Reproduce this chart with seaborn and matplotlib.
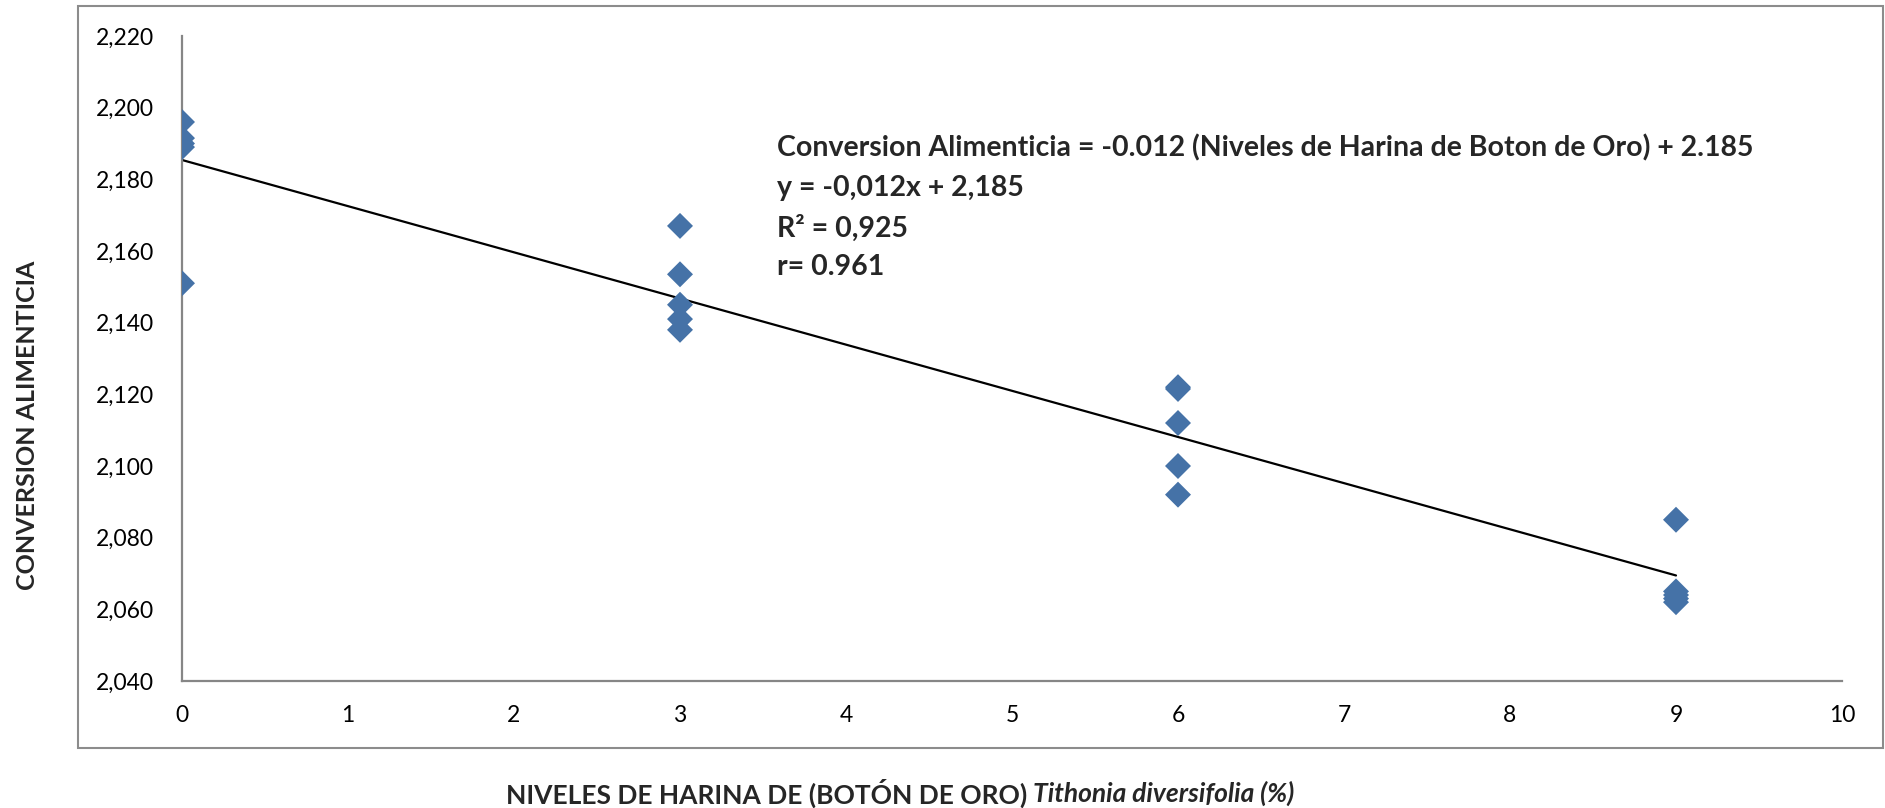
import matplotlib
matplotlib.use("Agg")
import matplotlib.pyplot as plt
import seaborn as sns
import numpy as np
import pandas as pd
from matplotlib.patches import Rectangle

# ---- data ----
niveles = [0, 0, 0, 0, 0,
           3, 3, 3, 3, 3,
           6, 6, 6, 6, 6,
           9, 9, 9, 9, 9]
conversion = [2.196, 2.1915, 2.190, 2.189, 2.151,
              2.167, 2.1535, 2.145, 2.141, 2.138,
              2.122, 2.1215, 2.112, 2.100, 2.092,
              2.085, 2.065, 2.064, 2.063, 2.062]

x_ticks = [0, 1, 2, 3, 4, 5, 6, 7, 8, 9, 10]
x_tick_labels = ["0", "1", "2", "3", "4", "5", "6", "7", "8", "9", "10"]
y_ticks = [2.040, 2.060, 2.080, 2.100, 2.120, 2.140, 2.160, 2.180, 2.200, 2.220]
y_tick_labels = ["2,040", "2,060", "2,080", "2,100", "2,120", "2,140",
                 "2,160", "2,180", "2,200", "2,220"]

eq_lines = [
    "Conversion Alimenticia = -0.012 (Niveles de Harina de Boton de Oro) + 2.185",
    "y = -0,012x + 2,185",
    "R² = 0,925",
    "r= 0.961",
]
xlabel_plain = "NIVELES DE HARINA DE (BOTÓN DE ORO) "
xlabel_italic = "Tithonia diversifolia (%)"
ylabel = "CONVERSION ALIMENTICIA"

df = pd.DataFrame({"niveles": niveles, "conversion": conversion})

sns.set_style("white")
FONT = ["Lato", "DejaVu Sans"]
plt.rcParams["font.family"] = FONT

W, H = 1885, 808
fig = plt.figure(figsize=(W / 100, H / 100), dpi=100)
ax = fig.add_axes([182 / W, 1 - 681 / H, (1842 - 182) / W, (681 - 36) / H])

# outer chart frame
fig.patches.append(Rectangle((78 / W, 1 - 748 / H), (1883 - 78) / W, (748 - 6) / H,
                             transform=fig.transFigure, fill=False,
                             edgecolor="#8c8c8c", linewidth=1.5))

sns.scatterplot(data=df, x="niveles", y="conversion", marker="D", s=175,
                color="#4572A7", edgecolor="none", ax=ax, zorder=3)
sns.regplot(data=df, x="niveles", y="conversion", scatter=False, ci=None,
            color="black", line_kws={"linewidth": 1.6}, ax=ax)

ax.set_xlim(0, 10)
ax.set_ylim(2.040, 2.220)
ax.set_xticks(x_ticks)
ax.set_xticklabels(x_tick_labels)
ax.set_yticks(y_ticks)
ax.set_yticklabels(y_tick_labels)
ax.tick_params(axis="both", length=0, labelsize=16.5, colors="black")
ax.tick_params(axis="y", pad=20)
ax.tick_params(axis="x", pad=17)
ax.set_xlabel("")
ax.set_ylabel("")
for side in ["top", "right"]:
    ax.spines[side].set_visible(False)
for side in ["left", "bottom"]:
    ax.spines[side].set_color("#868686")
    ax.spines[side].set_linewidth(1.6)
ax.set_clip_on(False)

# equation text
ys = [148, 188, 228, 267]
for t, yy in zip(eq_lines, ys):
    fig.text(777 / W, 1 - yy / H, t, fontsize=20.5, fontweight="bold",
             ha="left", va="center", family=FONT)

# y label
fig.text(28 / W, 1 - 425 / H, ylabel, rotation=90, fontsize=18, fontweight="bold",
         ha="center", va="center", family=FONT)

# x label (mixed upright / italic)
fig.canvas.draw()
r = fig.canvas.get_renderer()
t1 = fig.text(0, 1 - 793 / H, xlabel_plain, fontsize=19, fontweight="bold",
              ha="left", va="center", family=FONT)
t2 = fig.text(0, 1 - 793 / H, xlabel_italic, fontsize=19, fontweight="bold",
              style="italic", ha="left", va="center", family=FONT)
w1 = t1.get_window_extent(renderer=r).width
w2 = t2.get_window_extent(renderer=r).width
x0 = 900 - (w1 + w2) / 2
t1.set_x(x0 / W)
t2.set_x((x0 + w1) / W)

fig.savefig("out.png", dpi=100)
